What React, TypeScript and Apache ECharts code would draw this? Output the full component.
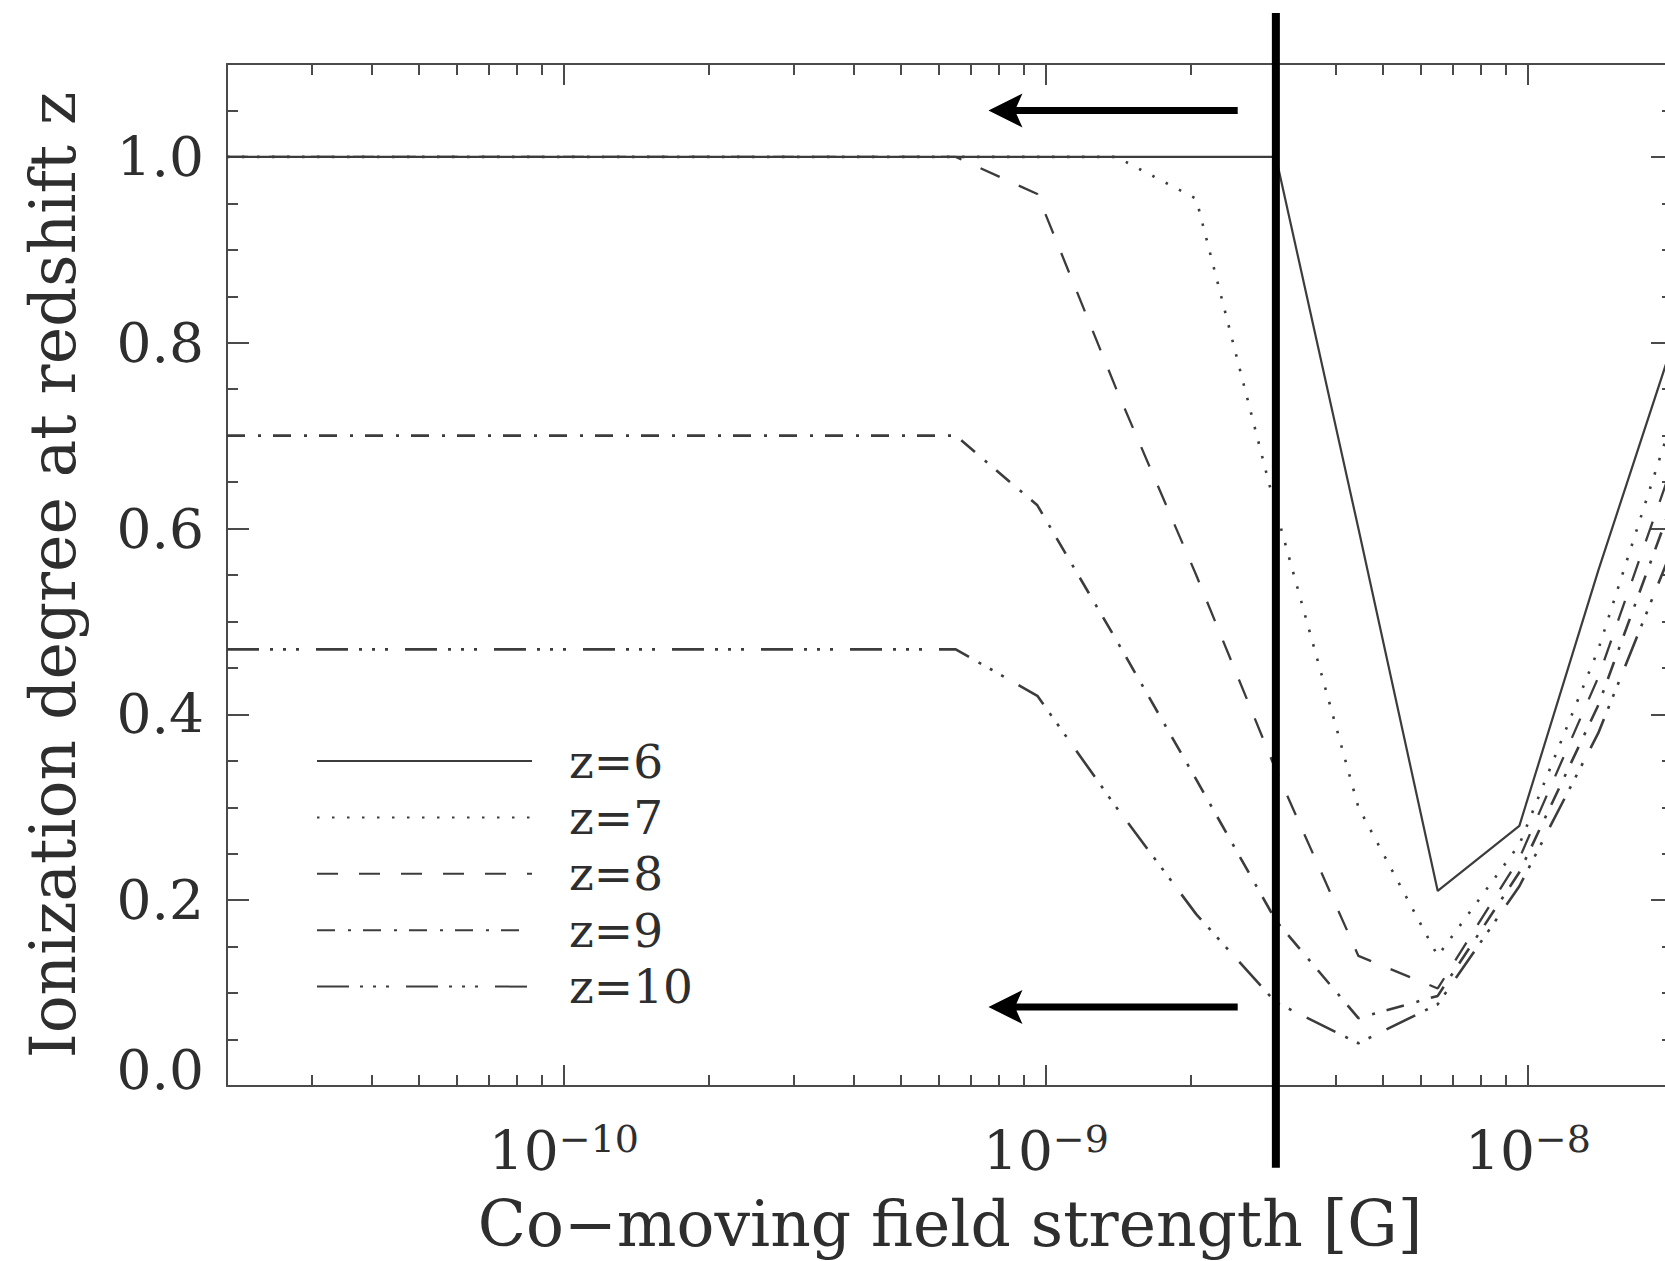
import React, { useEffect, useRef } from "react";
import * as echarts from "echarts";

// Co-moving field strength [G] at which the ionization degree was sampled
const FIELD_G = [2e-11, 6.5e-10, 9.6e-10, 1.4e-9, 2.05e-9, 3.0e-9, 4.45e-9, 6.5e-9, 9.6e-9, 1.4e-8, 2.0e-8];

// Ionization degree at redshift z, one array per redshift
const ION_Z6 = [1.0, 1.0, 1.0, 1.0, 1.0, 1.0, 0.6, 0.21, 0.28, 0.555, 0.8];
const ION_Z7 = [1.0, 1.0, 1.0, 1.0, 0.955, 0.62, 0.3, 0.14, 0.26, 0.47, 0.72];
const ION_Z8 = [1.0, 1.0, 0.96, 0.75, 0.55, 0.34, 0.14, 0.105, 0.245, 0.44, 0.67];
const ION_Z9 = [0.7, 0.7, 0.625, 0.48, 0.33, 0.178, 0.073, 0.097, 0.23, 0.41, 0.63];
const ION_Z10 = [0.47, 0.47, 0.42, 0.3, 0.185, 0.09, 0.046, 0.088, 0.215, 0.38, 0.58];

const SERIES_NAMES = ["z=6", "z=7", "z=8", "z=9", "z=10"];
const SERIES_VALUES = [ION_Z6, ION_Z7, ION_Z8, ION_Z9, ION_Z10];

// Axis extents and tick labels
const X_MIN = 2e-11;
const X_MAX = 2e-8;
const X_DECADES = [1e-10, 1e-9, 1e-8];
const X_DECADE_EXPONENTS = ["−10", "−9", "−8"];
const Y_MIN = 0;
const Y_MAX = 1.1;
const Y_MAJOR = [0, 0.2, 0.4, 0.6, 0.8, 1.0];

// Annotations: cut-off field, its vertical extent, and the two arrows
const CUT_FIELD = 3e-9;
const CUT_RANGE = [-0.088, 1.155];
const ARROW_TAIL = 2.5e-9;
const ARROW_TIP = 7.6e-10;
const ARROW_LEVELS = [1.05, 0.085];

const FONT = '"DejaVu Serif", "Liberation Serif", serif';
const INK = "#2e2e2e";
const AXIS = "#4a4a4a";
const LINE = "#3c3c3c";

const DASHES: (number[] | "solid")[] = [
  "solid",
  [2.5, 12.5],
  [21, 21],
  [18, 13, 3, 12],
  [32, 11, 3, 10, 3, 10, 3, 17],
];
const WIDTHS = [2.2, 2.6, 2.3, 2.6, 2.6];

const lg = (v: number) => Math.log10(v);

function minorFieldTicks(): number[] {
  const out: number[] = [];
  for (let e = -11; e <= -8; e++) {
    for (let k = 2; k <= 9; k++) {
      const v = k * Math.pow(10, e);
      if (v >= X_MIN * 0.999 && v <= X_MAX * 1.001) out.push(lg(v));
    }
  }
  return out;
}

function minorIonTicks(): number[] {
  const out: number[] = [];
  for (let i = 1; i <= 21; i++) {
    if (i % 4 !== 0) out.push(+(i * 0.05).toFixed(2));
  }
  return out;
}

const X_MAJOR_LOG = X_DECADES.map(lg);
const X_MINOR_LOG = minorFieldTicks();
const Y_MINOR = minorIonTicks();

function xAxisDef(position: "top" | "bottom", ticks: number[], len: number, withLabels: boolean, showLine: boolean) {
  return {
    type: "value",
    position,
    min: lg(X_MIN),
    max: lg(X_MAX),
    axisLine: { show: showLine, onZero: false, lineStyle: { color: AXIS, width: 2 } },
    axisTick: { show: true, inside: true, length: len, customValues: ticks, lineStyle: { color: AXIS, width: 2 } },
    splitLine: { show: false },
    axisLabel: withLabels
      ? {
          show: true,
          customValues: X_MAJOR_LOG,
          margin: 34,
          formatter: (v: number) => {
            const i = X_MAJOR_LOG.findIndex((d) => Math.abs(d - v) < 1e-6);
            return i < 0 ? "" : `{b|10}{s|${X_DECADE_EXPONENTS[i]}}`;
          },
          rich: {
            b: { fontFamily: FONT, fontSize: 55, lineHeight: 62, color: INK },
            s: { fontFamily: FONT, fontSize: 38, lineHeight: 22, verticalAlign: "top", color: INK },
          },
        }
      : { show: false },
  };
}

function yAxisDef(position: "left" | "right", ticks: number[], len: number, withLabels: boolean, showLine: boolean) {
  return {
    type: "value",
    position,
    min: Y_MIN,
    max: Y_MAX,
    axisLine: { show: showLine, onZero: false, lineStyle: { color: AXIS, width: 2 } },
    axisTick: { show: true, inside: true, length: len, customValues: ticks, lineStyle: { color: AXIS, width: 2 } },
    splitLine: { show: false },
    axisLabel: withLabels
      ? {
          show: true,
          customValues: Y_MAJOR,
          margin: 23,
          fontFamily: FONT,
          fontSize: 55,
          color: INK,
          formatter: (v: number) => (Math.abs(v) < 1e-9 ? "{lift|0.0}" : v.toFixed(1)),
          rich: {
            lift: { fontFamily: FONT, fontSize: 55, color: INK, padding: [0, 0, 32, 0] },
          },
        }
      : { show: false },
  };
}

export default function App() {
  const ref = useRef<HTMLDivElement>(null);

  useEffect(() => {
    if (!ref.current) return;
    const chart = echarts.init(ref.current, null, { renderer: "svg" });

    const xAxes = [
      {
        ...xAxisDef("bottom", X_MAJOR_LOG, 21, true, true),
        name: "Co−moving field strength [G]",
        nameLocation: "middle",
        nameGap: 107,
        nameTextStyle: { fontFamily: FONT, fontSize: 63, color: INK },
      },
      xAxisDef("bottom", X_MINOR_LOG, 11, false, false),
      xAxisDef("top", X_MAJOR_LOG, 21, false, true),
      xAxisDef("top", X_MINOR_LOG, 11, false, false),
    ];
    const yAxes = [
      {
        ...yAxisDef("left", Y_MAJOR, 22, true, true),
        name: "Ionization degree at redshift z",
        nameLocation: "middle",
        nameGap: 142,
        nameTextStyle: { fontFamily: FONT, fontSize: 63, color: INK },
      },
      yAxisDef("left", Y_MINOR, 11, false, false),
      yAxisDef("right", Y_MAJOR, 22, false, true),
      yAxisDef("right", Y_MINOR, 11, false, false),
    ];

    chart.setOption({
      animation: false,
      backgroundColor: "#ffffff",
      grid: { left: 227, top: 64, width: 1446, height: 1022, containLabel: false, outerBoundsMode: "none" },
      xAxis: xAxes,
      yAxis: yAxes,
      legend: {
        data: SERIES_NAMES,
        orient: "vertical",
        left: 316,
        top: 733,
        itemWidth: 215,
        itemHeight: 12,
        itemGap: 0.4,
        padding: 0,
        selectedMode: false,
        itemStyle: { color: "transparent", borderColor: "transparent", borderWidth: 0, opacity: 0 },
        textStyle: { fontFamily: FONT, fontSize: 47, color: INK, lineHeight: 56, padding: [0, 0, 0, 32] },
      },
      series: SERIES_NAMES.map((name, s) => ({
        name,
        type: "line",
        xAxisIndex: 0,
        yAxisIndex: 0,
        symbol: "none",
        clip: true,
        data: FIELD_G.map((f, i) => [lg(f), SERIES_VALUES[s][i]]),
        lineStyle: { color: LINE, width: WIDTHS[s], type: DASHES[s], cap: "butt" },
        itemStyle: { color: LINE },
        emphasis: { disabled: true },
      })),
    });

    // Annotations placed through the chart's own coordinate conversion
    const px = (f: number, v: number) => chart.convertToPixel({ seriesIndex: 0 }, [lg(f), v]) as number[];
    const cutTop = px(CUT_FIELD, CUT_RANGE[1]);
    const cutBottom = px(CUT_FIELD, CUT_RANGE[0]);
    const graphics: any[] = [
      {
        type: "line",
        z: 100,
        shape: { x1: cutTop[0], y1: cutTop[1], x2: cutBottom[0], y2: cutBottom[1] },
        style: { stroke: "#000", lineWidth: 8 },
      },
    ];
    ARROW_LEVELS.forEach((lvl) => {
      const tip = px(ARROW_TIP, lvl);
      const tail = px(ARROW_TAIL, lvl);
      graphics.push({
        type: "line",
        z: 100,
        shape: { x1: tip[0] + 26, y1: tip[1], x2: tail[0], y2: tail[1] },
        style: { stroke: "#000", lineWidth: 7 },
      });
      graphics.push({
        type: "polygon",
        z: 100,
        shape: {
          points: [
            [tip[0], tip[1]],
            [tip[0] + 34, tip[1] - 17],
            [tip[0] + 28, tip[1] - 3.5],
            [tip[0] + 28, tip[1] + 3.5],
            [tip[0] + 34, tip[1] + 17],
          ],
        },
        style: { fill: "#000" },
      });
    });
    chart.setOption({ graphic: graphics });

    return () => chart.dispose();
  }, []);

  return (
    <div
      style={{
        position: "fixed",
        left: 0,
        top: 0,
        width: 1665,
        height: 1261,
        overflow: "hidden",
        background: "#fff",
      }}
    >
      <div ref={ref} style={{ width: 1700, height: 1261 }} />
    </div>
  );
}
